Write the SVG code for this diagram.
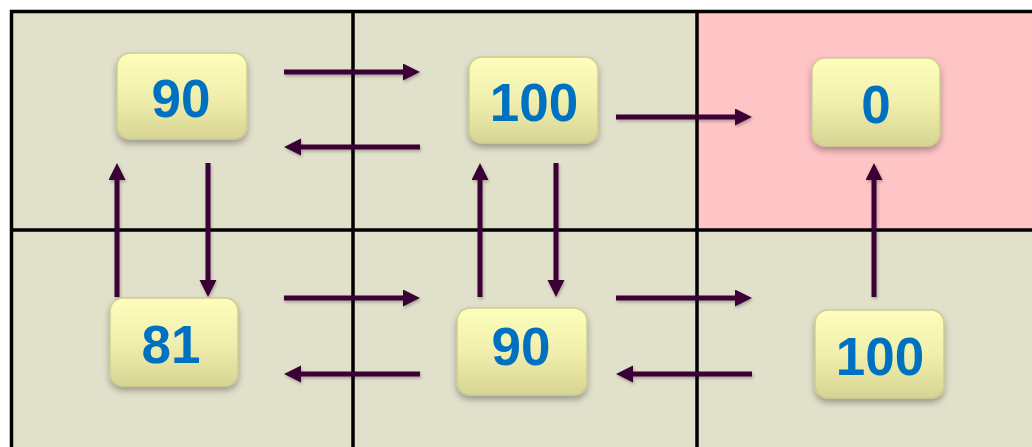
<svg xmlns="http://www.w3.org/2000/svg" width="1032" height="447" viewBox="0 0 1032 447">
<style>
.cell{fill:#E1E0CA}
.goal{fill:#FFC4C5}
.grid{stroke:#000;stroke-width:3.5;fill:none}
.box{fill:url(#bg);stroke:#CFCB92;stroke-width:1.5;filter:url(#sh)}
.lbl{font-family:"Liberation Sans",Arial,sans-serif;font-weight:bold;font-size:53px;fill:#0070C0;text-anchor:middle}
.arr{stroke:#3A0036;stroke-width:5;fill:none;marker-end:url(#ah)}
</style>
<defs>
<linearGradient id="bg" x1="0" y1="0" x2="0" y2="1">
<stop offset="0" stop-color="#FDFDBC"/>
<stop offset="0.5" stop-color="#F0EFAE"/>
<stop offset="1" stop-color="#D6D593"/>
</linearGradient>
<filter id="sh" x="-20%" y="-20%" width="140%" height="150%">
<feDropShadow dx="0" dy="4" stdDeviation="3" flood-color="#000" flood-opacity="0.3"/>
</filter>
<filter id="ash" filterUnits="userSpaceOnUse" x="0" y="0" width="1032" height="447">
<feDropShadow dx="1" dy="2" stdDeviation="1.5" flood-color="#000" flood-opacity="0.25"/>
</filter>
<marker id="ah" markerUnits="userSpaceOnUse" markerWidth="18" markerHeight="18" refX="4" refY="8.5" orient="auto">
<path d="M0,0 L17,8.5 L0,17 Z" fill="#3A0036"/>
</marker>
</defs>
<g id="grid">
<rect class="cell" x="10" y="11" width="1030" height="440"/>
<rect class="goal" x="697" y="11" width="340" height="219"/>
<path class="grid" d="M11.5,460 V11.5 H1040 M353,11 V460 M697,11 V460 M10,230 H1040"/>
</g>
<g id="connectors" filter="url(#ash)">
<line class="arr" x1="284" y1="72" x2="407" y2="72"/>
<line class="arr" x1="420" y1="147" x2="297" y2="147"/>
<line class="arr" x1="117" y1="297" x2="117" y2="176"/>
<line class="arr" x1="208" y1="163" x2="208" y2="284"/>
<line class="arr" x1="616" y1="117" x2="739" y2="117"/>
<line class="arr" x1="480" y1="297" x2="480" y2="176"/>
<line class="arr" x1="556" y1="163" x2="556" y2="284"/>
<line class="arr" x1="874" y1="297" x2="874" y2="176"/>
<line class="arr" x1="284" y1="298" x2="407" y2="298"/>
<line class="arr" x1="420" y1="374" x2="297" y2="374"/>
<line class="arr" x1="616" y1="298" x2="739" y2="298"/>
<line class="arr" x1="752" y1="374" x2="629" y2="374"/>
</g>
<g id="n1"><rect class="box" x="117" y="53" width="130" height="86" rx="13"/><text class="lbl" x="181" y="117">90</text></g>
<g id="n2"><rect class="box" x="469" y="57" width="129" height="86" rx="13"/><text class="lbl" x="534" y="121">100</text></g>
<g id="n3"><rect class="box" x="812" y="58" width="128" height="88" rx="13"/><text class="lbl" x="876" y="123">0</text></g>
<g id="n4"><rect class="box" x="110" y="298" width="128" height="88" rx="13"/><text class="lbl" x="171" y="363">81</text></g>
<g id="n5"><rect class="box" x="457" y="308" width="130" height="87" rx="13"/><text class="lbl" x="521" y="365">90</text></g>
<g id="n6"><rect class="box" x="815" y="310" width="129" height="88" rx="13"/><text class="lbl" x="880" y="375">100</text></g>
</svg>
